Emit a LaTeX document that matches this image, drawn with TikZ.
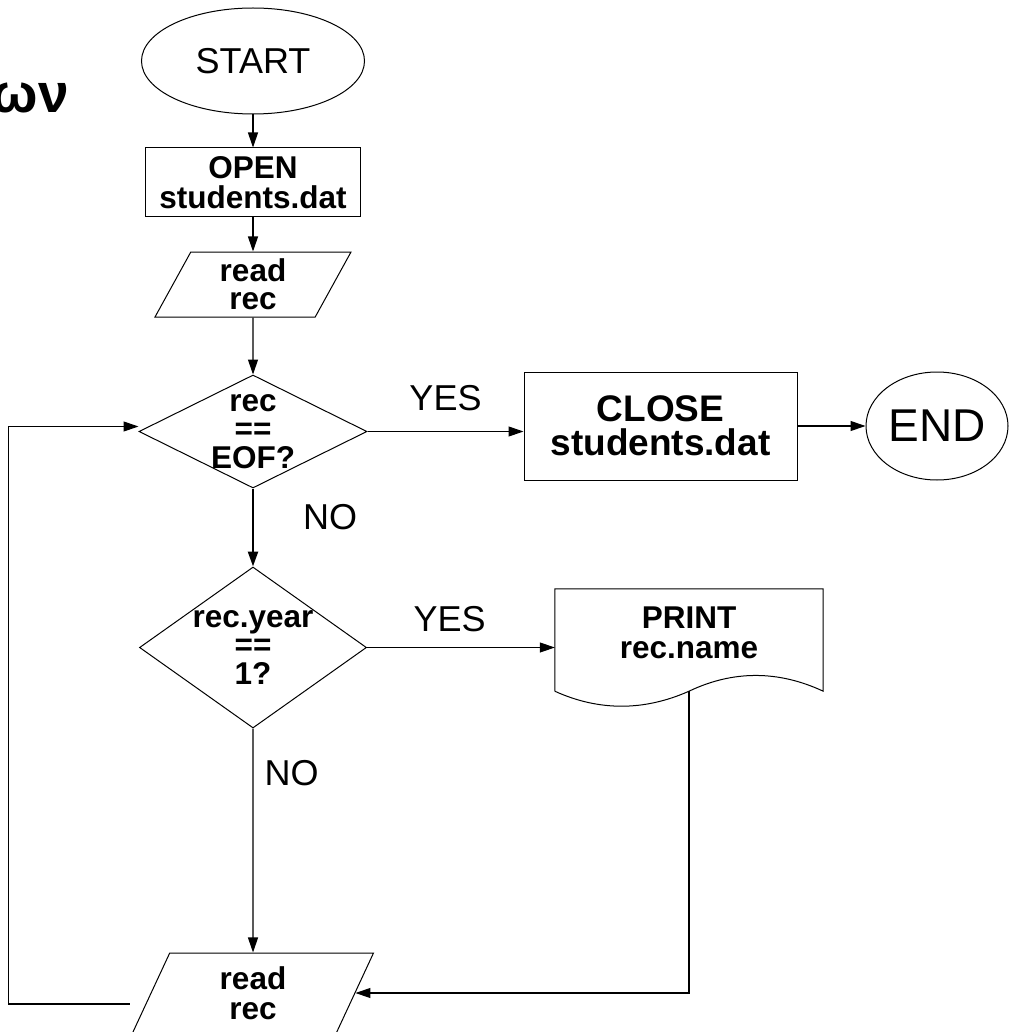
\documentclass[tikz,border=0pt]{standalone}
\usepackage{fontspec}
\setmainfont{Liberation Sans}
\usetikzlibrary{shapes,arrows,positioning,calc,arrows.meta}

\begin{document}
\begin{tikzpicture}[
        x=1pt, y=-1pt,
        every node/.style={inner sep=0pt},
        term/.style={draw, ellipse, line width=1pt, font=\fontsize{36}{38}\selectfont},
        box/.style={draw, rectangle, line width=1pt, align=center, font=\fontsize{31.5}{30}\selectfont\bfseries},
        io/.style={draw, trapezium, trapezium left angle=55, trapezium right angle=125, trapezium stretches body, line width=1pt, align=center, font=\fontsize{31.5}{28}\selectfont\bfseries},
        decision/.style={draw, diamond, line width=1pt},
        dtext/.style={align=center, font=\fontsize{31.5}{28.5}\selectfont\bfseries},
        lbl/.style={font=\fontsize{36}{38}\selectfont},
        arrow/.style={-{Triangle[length=15pt, width=10pt]}, line width=1.1pt}
    ]
        \useasboundingbox (0, 0) rectangle (1011, 1032);

        \node (title) [font=\fontsize{55}{58}\selectfont\bfseries, anchor=base east] at (69, 113) {ων};

        % Main column
        \node (start) [term, minimum width=223pt, minimum height=106pt] at (253, 61) {START};
        \node (open) [box, minimum width=215pt, minimum height=69pt] at (253, 182.5) {OPEN\\students.dat};
        \node (read1) [io, minimum width=196pt, minimum height=65pt] at (253, 284.5) {read\\rec};
        \node (eof) [decision, minimum width=228pt, minimum height=113pt, label={[dtext]center:rec\\==\\EOF?}] at (253, 431.5) {};
        \node (year) [decision, minimum width=227pt, minimum height=161pt, label={[dtext]center:rec.year\\==\\1?}] at (253, 647.5) {};
        \node (read2) [io, font=\fontsize{31.5}{30}\selectfont\bfseries, minimum width=241pt, minimum height=80pt] at (253, 993) {read\\rec};

        % Right side
        \node (close) [box, font=\fontsize{37}{34}\selectfont\bfseries, minimum width=273pt, minimum height=108pt] at (660.5, 426) {CLOSE\\students.dat};
        \node (end) [term, font=\fontsize{46}{48}\selectfont, minimum width=142pt, minimum height=108pt] at (937, 426) {END};
        \node (print) [minimum width=268pt, minimum height=102pt, label={[box, draw=none, yshift=7pt]center:PRINT\\rec.name}] at (689, 640) {};
        \draw [line width=1pt] (print.south west) -- (print.north west) -- (print.north east) -- (print.south east)
            .. controls +(-45, -21) and +(44, -21) .. (print.south)
            .. controls +(-45, 20) and +(44, 20) .. (print.south west);

        % Connectors
        \draw [arrow] (start) -- (open);
        \draw [arrow] (open) -- (read1);
        \draw [arrow] (read1) -- (eof);
        \draw [arrow] (eof.east) -- node[lbl, above=20pt] {YES} (eof.east -| close.west);
        \draw [arrow] (close) -- (end);
        \draw [arrow, line width=2.4pt] (eof) -- node[lbl, right=49pt, pos=0.37] {NO} (year);
        \draw [arrow] (year.east) -- node[lbl, above=15pt, pos=0.44] {YES} (year.east -| print.west);
        \draw [arrow] (year) -- node[lbl, right=11pt, pos=0.2] {NO} (read2);
        \draw [arrow] (print.south) |- (read2.east);
        \draw [arrow] ([xshift=-21pt, yshift=-11pt]read2.west) -- ++(-121, 0) |- ([yshift=5pt]eof.west);
    \end{tikzpicture}
\end{document}
